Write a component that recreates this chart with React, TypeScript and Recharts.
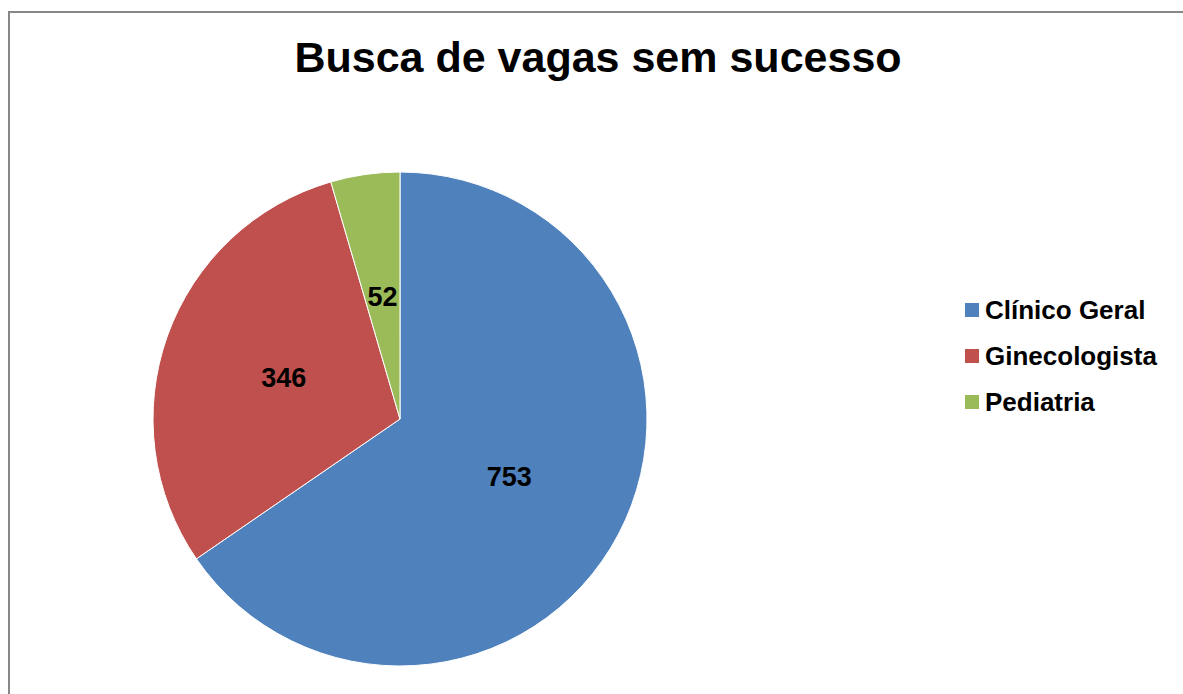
import { PieChart, Pie, Cell } from "recharts";

const categories = ["Clínico Geral", "Ginecologista", "Pediatria"];
const values = [753, 346, 52];
const colors = ["#4F81BD", "#C0504D", "#9BBB59"];

const data = categories.map((name, i) => ({ name, value: values[i] }));

const RADIAN = Math.PI / 180;
const FONT = "'Liberation Sans', Arial, sans-serif";

const renderLabel = (props: any) => {
  const { cx, cy, midAngle, outerRadius, value } = props;
  const r = outerRadius * 0.5;
  const x = cx + r * Math.cos(-midAngle * RADIAN);
  const y = cy + r * Math.sin(-midAngle * RADIAN);
  return (
    <text
      x={x}
      y={y}
      fill="#000"
      textAnchor="middle"
      dominantBaseline="central"
      fontFamily={FONT}
      fontWeight="bold"
      fontSize={27}
    >
      {value}
    </text>
  );
};

function ChartLegend() {
  return (
    <div style={{ position: "absolute", left: 965, top: 287, fontFamily: FONT }}>
      {categories.map((c, i) => (
        <div key={c} style={{ display: "flex", alignItems: "center", height: 46 }}>
          <span
            style={{
              width: 14,
              height: 14,
              background: colors[i],
              marginRight: 6,
              display: "inline-block",
            }}
          />
          <span style={{ fontSize: 26, fontWeight: "bold", color: "#000" }}>{c}</span>
        </div>
      ))}
    </div>
  );
}

export default function App() {
  return (
    <div style={{ position: "relative", width: 1183, height: 694, overflow: "hidden", background: "#fff" }}>
      <style>{`body{margin:0;overflow:hidden}`}</style>
      <div
        style={{
          position: "absolute",
          left: 8,
          top: 11,
          width: 1174,
          height: 720,
          borderLeft: "2px solid #878787",
          borderTop: "2px solid #878787",
        }}
      />
      <div
        style={{
          position: "absolute",
          left: 0,
          top: 28,
          width: 1196,
          textAlign: "center",
          fontFamily: FONT,
          fontWeight: "bold",
          fontSize: 43,
          lineHeight: "58px",
          color: "#000",
        }}
      >
        Busca de vagas sem sucesso
      </div>
      <PieChart
        width={1183}
        height={694}
        margin={{ top: 0, right: 0, bottom: 0, left: 0 }}
        style={{ position: "absolute", left: 0, top: 0 }}
      >
        <Pie
          data={data}
          dataKey="value"
          nameKey="name"
          cx={400}
          cy={419}
          outerRadius={247}
          startAngle={90}
          endAngle={-270}
          stroke="#fff"
          strokeWidth={1}
          label={renderLabel}
          labelLine={false}
          isAnimationActive={false}
        >
          {data.map((d, i) => (
            <Cell key={d.name} fill={colors[i]} />
          ))}
        </Pie>
      </PieChart>
      <ChartLegend />
    </div>
  );
}
